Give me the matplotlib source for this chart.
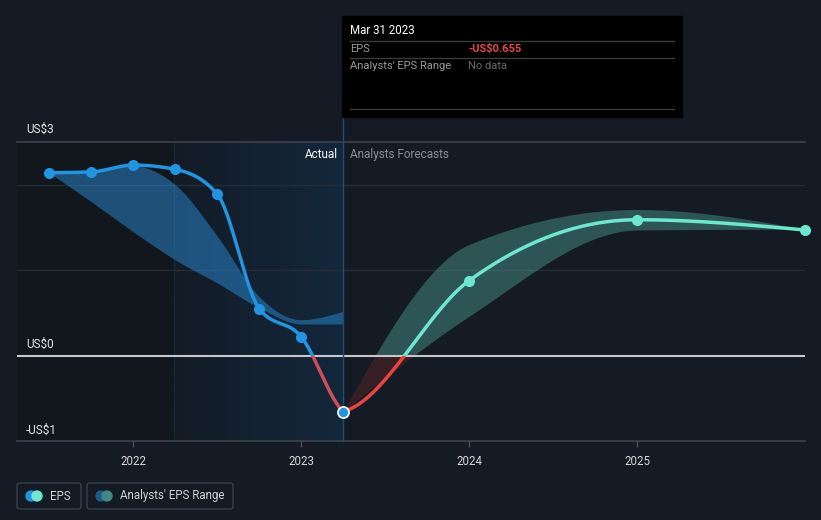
import matplotlib
matplotlib.use("Agg")
import matplotlib.pyplot as plt
import matplotlib.patches as mpatches
import numpy as np

plt.rcParams['font.family'] = ['Roboto', 'DejaVu Sans']

# Data (decimal years, US$ per share)
past_x = [2021.5, 2021.75, 2022.0, 2022.25, 2022.5, 2022.75, 2023.0, 2023.25]
past_eps = [2.14, 2.15, 2.23, 2.18, 1.89, 0.55, 0.22, -0.655]
past_band_hi = [2.14, 2.17, 2.22, 2.00, 1.40, 0.69, 0.42, 0.52]
past_band_lo = [2.14, 1.80, 1.45, 1.12, 0.85, 0.56, 0.37, 0.37]

fc_x = [2023.25, 2024.0, 2025.0, 2026.0]
fc_eps = [-0.655, 0.877, 1.59, 1.47]
fc_hi = [-0.655, 1.30, 1.71, 1.48]
fc_lo = [-0.655, 0.46, 1.47, 1.48]

year_ticks = [2022, 2023, 2024, 2025]
y_labels = ["US$3", "US$0", "-US$1"]

W, H = 821, 520
BG = "#151b24"


def px(x, y):
    return x / W, 1 - y / H


def monotone(x, y, n=60, m0=None, m1=None):
    # d3-style monotone cubic
    x = np.asarray(x, float)
    y = np.asarray(y, float)
    h = np.diff(x)
    s = np.diff(y) / h
    m = np.zeros(len(x))
    if len(x) > 2:
        p = (s[:-1] * h[1:] + s[1:] * h[:-1]) / (h[:-1] + h[1:])
        m[1:-1] = (np.sign(s[:-1]) + np.sign(s[1:])) * np.minimum(
            np.minimum(np.abs(s[:-1]), np.abs(s[1:])), 0.5 * np.abs(p))
        m[0] = (3 * s[0] - m[1]) / 2
        m[-1] = (3 * s[-1] - m[-2]) / 2
    else:
        m[:] = s[0]
    if m0 is not None:
        m[0] = m0
    if m1 is not None:
        m[-1] = m1
    xs, ys = [], []
    for i in range(len(x) - 1):
        t = np.linspace(0, 1, n)
        h00 = 2 * t**3 - 3 * t**2 + 1
        h10 = t**3 - 2 * t**2 + t
        h01 = -2 * t**3 + 3 * t**2
        h11 = t**3 - t**2
        xs.append(x[i] + t * h[i])
        ys.append(h00 * y[i] + h10 * h[i] * m[i] + h01 * y[i + 1] + h11 * h[i] * m[i + 1])
    return np.concatenate(xs), np.concatenate(ys)


fig = plt.figure(figsize=(W / 100, H / 100), dpi=100, facecolor=BG)
ax = fig.add_axes([17 / W, 1 - 441 / H, (805 - 17) / W, (441 - 142) / H])
ax.set_facecolor(BG)
x0, x1 = 2021.308, 2026.0
y0, y1 = -1.0, 2.5
ax.set_xlim(x0, x1)
ax.set_ylim(y0, y1)
for sp in ax.spines.values():
    sp.set_visible(False)

# background regions
split = 2022.24
ax.axvspan(x0, split, color="#12161d", zorder=0, lw=0)
grad = np.linspace(0, 1, 256).reshape(1, -1)
cmap = matplotlib.colors.LinearSegmentedColormap.from_list("hl", ["#131b26", "#13283c"])
ax.imshow(grad, extent=[split, 2023.25, y0, y1], aspect="auto", cmap=cmap, zorder=0.5)
ax.axvline(split, color="#1a2635", lw=1, zorder=0.6)

# grid
for gy in [1, 2]:
    ax.axhline(gy, color="#262c36", lw=1, zorder=1)
ax.axhline(y1, color="#3d434c", lw=1.2, zorder=1, clip_on=False)
ax.axhline(y0, color="#3d434c", lw=1.2, zorder=1, clip_on=False)

# past analyst range
bx, bh = monotone(past_x, past_band_hi)
_, bl = monotone(past_x, past_band_lo)
ax.fill_between(bx, bl, bh, color="#2a8ad4", alpha=0.5, lw=0, zorder=2)

# forecast range, teal above zero, red below
fx, fh = monotone(fc_x, fc_hi)
_, fl = monotone(fc_x, fc_lo)
ax.fill_between(fx, np.maximum(fl, 0), np.maximum(fh, 0), color="#4c9e93", alpha=0.45, lw=0, zorder=2)
ax.fill_between(fx, np.minimum(fl, 0), np.minimum(fh, 0), color="#c0392b", alpha=0.2, lw=0, zorder=2)

ax.axhline(0, color="#c8c8c8", lw=1.5, zorder=3)


def split_line(x, y, c_up, c_dn):
    above = mpatches.Rectangle((x0 - 1, 0), 10, 10, transform=ax.transData)
    below = mpatches.Rectangle((x0 - 1, -10), 10, 10, transform=ax.transData)
    l1, = ax.plot(x, y, color=c_up, lw=2.5, zorder=4, solid_capstyle="round")
    l1.set_clip_path(above)
    l2, = ax.plot(x, y, color=c_dn, lw=2.5, zorder=4, solid_capstyle="round")
    l2.set_clip_path(below)


ex, ey = monotone(past_x, past_eps, m1=-1.8)
split_line(ex, ey, "#2394df", "#cc4f57")
ax.plot(past_x[:-1], past_eps[:-1], "o", color="#2394df", ms=7, zorder=5)

gx, gy_ = monotone(fc_x, fc_eps, m0=0.5)
split_line(gx, gy_, "#6ee6d0", "#e8453c")
ax.plot(fc_x[1:], fc_eps[1:], "o", color="#6ee6d0", ms=7, zorder=5, clip_on=False)
ax.plot(past_x[-1], past_eps[-1], "o", color="#2394df", mec="white", mew=1.2, ms=8, zorder=6)

# vertical marker at latest actual
ax.plot([2023.25, 2023.25], [y0, 2.8], color="#1e4d72", lw=1, zorder=3, clip_on=False)

# x ticks
ax.set_xticks(year_ticks)
ax.set_xticklabels([str(t) for t in year_ticks])
ax.tick_params(axis="x", colors="#4a505a", length=4, width=1, labelcolor="#d4d6d9", labelsize=8.3, pad=6)
ax.set_yticks([])

# y labels
for lab, ly in zip(y_labels, [129, 344, 430]):
    fig.text(*px(26, ly), lab, color="#e2e4e6", fontsize=8.5, va="center", ha="left")

fig.text(*px(338, 154), "Actual", color="#ffffff", fontsize=8.5, va="center", ha="right")
fig.text(*px(350, 154), "Analysts Forecasts", color="#8a8f96", fontsize=8.5, va="center", ha="left")

# tooltip
fig.patches.append(mpatches.Rectangle(px(342, 117), 340 / W, 101 / H, transform=fig.transFigure,
                                      color="#000000", zorder=10))
for ly in [41, 58, 109]:
    fig.lines.append(plt.Line2D([350 / W, 674 / W], [1 - ly / H] * 2, transform=fig.transFigure,
                                color="#3a3a3a", lw=1, zorder=11))
fig.text(*px(350, 31), "Mar 31 2023", color="#ffffff", fontsize=8.3, va="center", zorder=12)
fig.text(*px(350, 49), "EPS", color="#9a9a9a", fontsize=8, va="center", zorder=12)
fig.text(*px(468, 49), "-US$0.655", color="#e5484d", fontsize=8, va="center", fontweight="bold", zorder=12)
fig.text(*px(350, 66), "Analysts' EPS Range", color="#9a9a9a", fontsize=8, va="center", zorder=12)
fig.text(*px(468, 66), "No data", color="#6b6b6b", fontsize=8, va="center", zorder=12)

# legend
for bx0, bx1 in [(17, 81), (87, 233)]:
    fig.patches.append(mpatches.FancyBboxPatch(px(bx0, 509), (bx1 - bx0) / W, 26 / H,
                                               boxstyle="round,pad=0,rounding_size=0.004",
                                               transform=fig.transFigure, fc="none",
                                               ec="#3a404a", lw=1))
for cx, col in [(31, "#2394df"), (37, "#6ee6d0"), (101, "#1f5a88"), (107, "#3f8a83")]:
    fig.patches.append(mpatches.Ellipse(px(cx, 496), 10 / W, 10 / H, transform=fig.transFigure, color=col))
fig.text(*px(50, 496), "EPS", color="#d0d2d5", fontsize=8.3, va="center")
fig.text(*px(120, 496), "Analysts' EPS Range", color="#d0d2d5", fontsize=8.3, va="center")

fig.savefig("out.png", dpi=100, facecolor=BG)
